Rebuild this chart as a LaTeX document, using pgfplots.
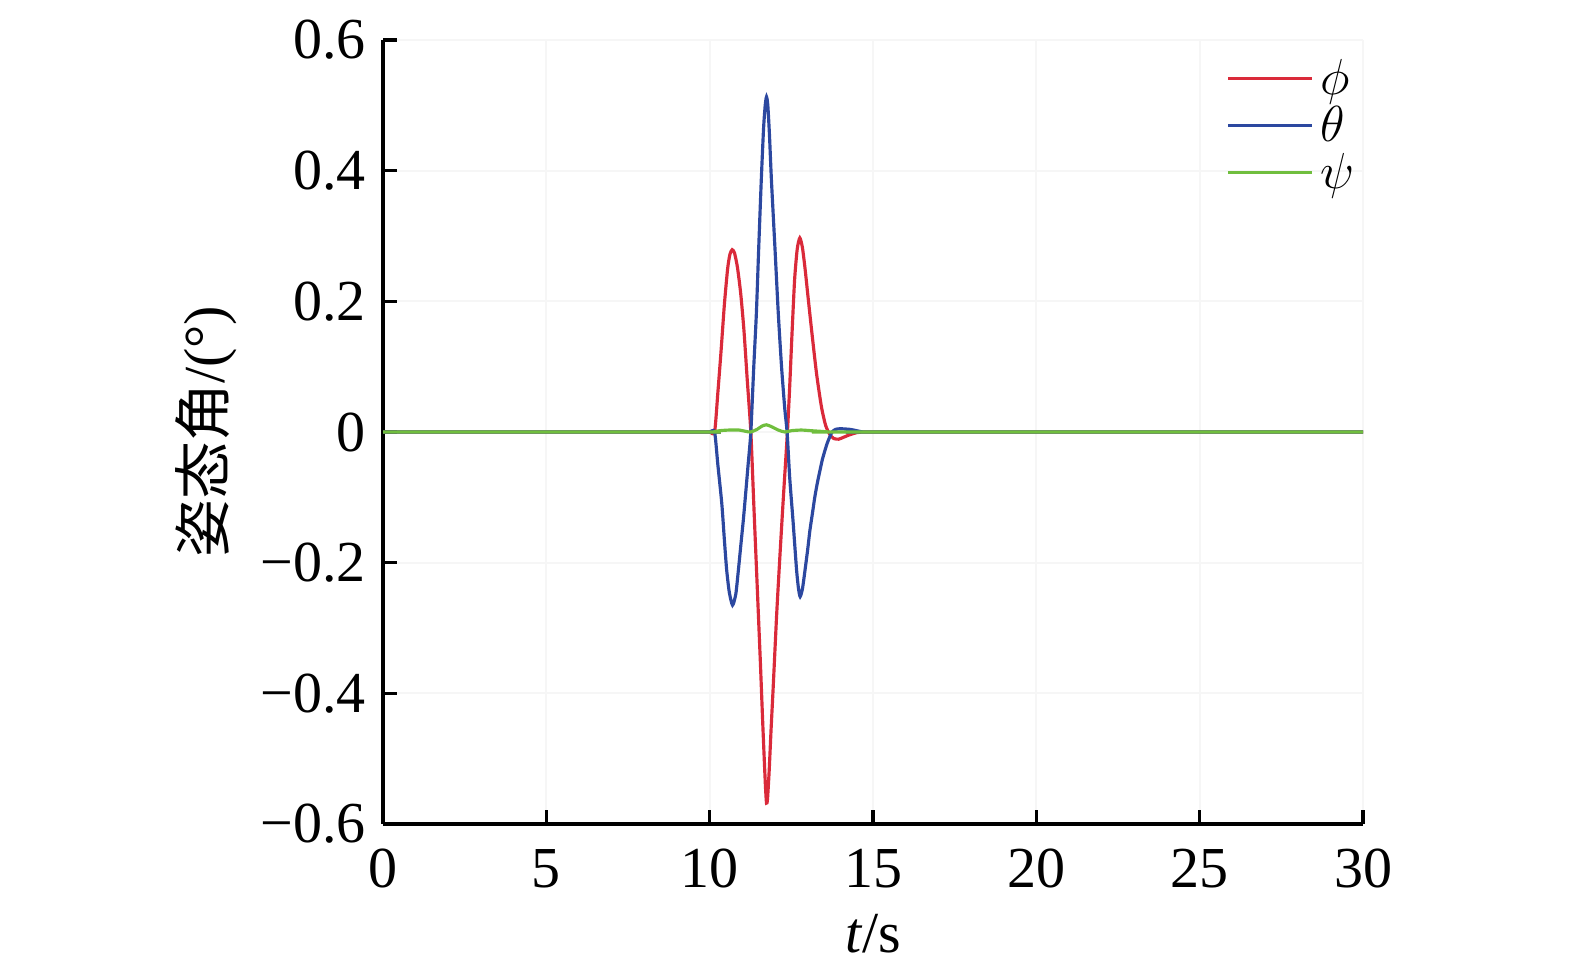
\documentclass[border=0pt]{standalone}
\usepackage{fontspec}
\setmainfont{Liberation Serif}
\newfontfamily\cjk{Noto Sans CJK SC}
\usepackage{pgfplots}
\pgfplotsset{compat=1.18}
\definecolor{phicol}{RGB}{218,42,58}
\definecolor{thetacol}{RGB}{44,72,160}
\definecolor{psicol}{RGB}{112,190,62}

\begin{document}
\begin{tikzpicture}
\begin{axis}[
    name=ax,
    scale only axis,
    width=9.8cm, height=7.84cm,
    xmin=0, xmax=30, ymin=-0.6, ymax=0.6,
    axis x line*=bottom, axis y line*=left,
    axis line style={line width=0.9pt, black},
    xtick={0,5,10,15,20,25,30},
    xticklabels={0,5,10,15,20,25,30},
    ytick={-0.6,-0.4,-0.2,0,0.2,0.4,0.6},
    yticklabels={−0.6,−0.4,−0.2,0,0.2,0.4,0.6},
    tick align=inside,
    major tick length=0.14cm,
    tick style={line width=0.9pt, black},
    grid=major,
    grid style={gray!7, line width=0.5pt},
    ticklabel style={font=\fontsize{16.5}{19}\selectfont},
    xticklabel style={yshift=-0.13cm},
    yticklabel style={xshift=-0.05cm},
    label style={font=\fontsize{16.5}{19}\selectfont},
    xlabel={\textit{t}/s},
    xlabel style={at={(axis description cs:0.5,-0.14)}, anchor=center},
    ylabel={{\cjk 姿态角}/(°)},
    ylabel style={at={(axis description cs:-0.18,0.5)}, anchor=center},
    legend cell align=left,
    legend style={draw=none, fill=none, inner sep=0pt,
        at={(axis description cs:0.86,0.978)}, anchor=north west,
        font=\fontsize{15.5}{17}\selectfont, row sep=0pt,
        nodes={inner ysep=0pt, inner xsep=2pt, text height=0.37cm, text depth=0.1cm}},
    legend image code/.code={\draw[#1, line width=0.9pt] (0cm,0.03cm) -- (0.84cm,0.03cm);},
]
% phi
\addplot[phicol, line width=0.9pt, smooth, tension=0.4] coordinates {
(0,0) (9.8,0) (10.0,0) (10.15,0) (10.25,0.06) (10.35,0.125) (10.45,0.195)
(10.55,0.250) (10.62,0.272) (10.69,0.279) (10.76,0.274) (10.85,0.252)
(10.95,0.212) (11.05,0.155) (11.15,0.08) (11.26,0) (11.35,-0.11)
(11.45,-0.23) (11.55,-0.35) (11.62,-0.44) (11.67,-0.50) (11.71,-0.545)
(11.74,-0.568) (11.77,-0.562) (11.82,-0.52) (11.88,-0.455) (11.95,-0.385)
(12.05,-0.28) (12.15,-0.19) (12.25,-0.105) (12.38,0) (12.45,0.07)
(12.52,0.15) (12.6,0.233) (12.68,0.28) (12.76,0.297) (12.84,0.282)
(12.92,0.25) (13.0,0.212) (13.12,0.156) (13.27,0.09) (13.42,0.039)
(13.55,0.01) (13.68,-0.004) (13.8,-0.01) (13.95,-0.011) (14.1,-0.008)
(14.3,-0.004) (14.5,-0.001) (14.7,0) (15,0) (30,0)
};
\addlegendentry{$\phi$}
% theta
\addplot[thetacol, line width=0.9pt, smooth, tension=0.4] coordinates {
(0,0) (9.8,0) (10.0,0) (10.15,0) (10.25,-0.05) (10.37,-0.109) (10.45,-0.165)
(10.52,-0.211) (10.6,-0.245) (10.7,-0.265) (10.8,-0.248) (10.88,-0.211)
(10.96,-0.17) (11.03,-0.135) (11.1,-0.095) (11.18,-0.048) (11.26,0)
(11.35,0.1) (11.43,0.182) (11.5,0.28) (11.58,0.386) (11.65,0.465)
(11.7,0.50) (11.74,0.513) (11.78,0.50) (11.83,0.455) (11.89,0.386)
(12.0,0.28) (12.1,0.182) (12.2,0.1) (12.3,0.035) (12.37,0)
(12.45,-0.07) (12.55,-0.135) (12.66,-0.211) (12.72,-0.24) (12.77,-0.252)
(12.84,-0.24) (12.92,-0.211) (13.0,-0.18) (13.07,-0.150) (13.15,-0.123)
(13.22,-0.099) (13.3,-0.077) (13.38,-0.058) (13.45,-0.042) (13.53,-0.028)
(13.6,-0.017) (13.68,-0.007) (13.75,0) (13.85,0.004) (14.0,0.005)
(14.3,0.004) (14.5,0.002) (14.7,0) (15,0) (30,0)
};
\addlegendentry{$\theta$}
% psi
\addplot[psicol, line width=0.9pt, smooth, tension=0.4] coordinates {
(0,0) (9.8,0) (10.0,0) (10.1,0) (10.3,0.002) (10.6,0.003) (10.9,0.003)
(11.1,0.001) (11.25,0) (11.45,0.004) (11.6,0.009) (11.74,0.011)
(11.9,0.008) (12.1,0.003) (12.3,0) (12.5,0.002) (12.8,0.003)
(13.1,0.002) (13.4,0.001) (13.7,0) (14,0) (30,0)
};
\addlegendentry{$\psi$}
\end{axis}
\path ([xshift=-3.83cm,yshift=-1.45cm]ax.south west) rectangle ([xshift=2.12cm,yshift=0.4cm]ax.north east);
\end{tikzpicture}
\end{document}
